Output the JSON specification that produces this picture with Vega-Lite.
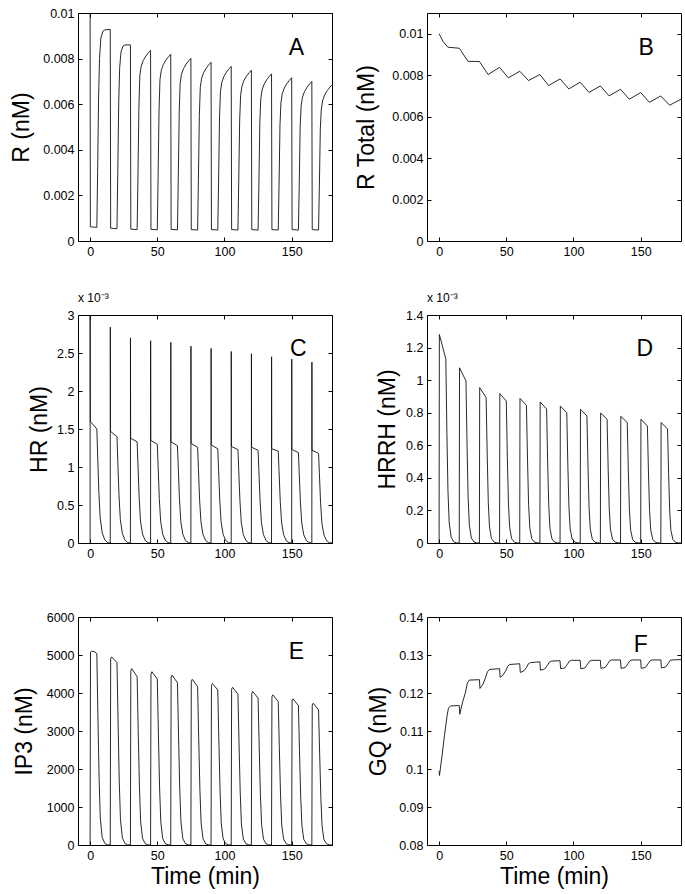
{
"$schema": "https://vega.github.io/schema/vega-lite/v6.json",
"background": "white",
"padding": {"left": 10, "top": 6, "right": 5, "bottom": 5},
"columns": 2,
"spacing": {"row": 74, "column": 95},
"bounds": "flush",
"config": {
  "font": "Liberation Sans",
  "view": {"stroke": "#000", "strokeWidth": 1},
  "axis": {"domain": false, "grid": false, "tickSize": -4, "tickColor": "#000", "tickWidth": 1, "labelPadding": 8, "labelFont": "Liberation Sans", "labelFontSize": 12.5, "labelColor": "#000", "labelFlush": false, "labelOverlap": false, "titleFont": "Liberation Sans", "titleFontSize": 23, "titleFontWeight": "normal", "titleColor": "#000", "titlePadding": 5},
  "title": {"font": "Liberation Sans", "fontSize": 12, "fontWeight": "normal", "anchor": "start", "frame": "group", "offset": 4, "color": "#000"},
  "line": {"color": "#111", "strokeWidth": 0.9},
  "text": {"font": "Liberation Sans", "fontSize": 23, "color": "#000"}
},
"datasets": {
"A": [{"t":0,"v":0.0100},{"t":0.2,"v":0.00062},{"t":5,"v":0.0006},{"t":5.6,"v":0.003},{"t":6.3,"v":0.0062},{"t":7,"v":0.008},{"t":8,"v":0.0089},{"t":9.5,"v":0.0092},{"t":11,"v":0.00926},{"t":15,"v":0.00928},
{"t":15.3,"v":0.00056},{"t":20,"v":0.00054},{"t":20.6,"v":0.003},{"t":21.3,"v":0.0061},{"t":22,"v":0.0076},{"t":23,"v":0.0083},{"t":24.5,"v":0.00855},{"t":26,"v":0.0086},{"t":30,"v":0.0086},
{"t":30.3,"v":0.00052},{"t":35,"v":0.0005},{"t":35.6,"v":0.0028},{"t":36.3,"v":0.0058},{"t":37,"v":0.00726},{"t":38,"v":0.00766},{"t":39.5,"v":0.00791},{"t":41.5,"v":0.00811},{"t":43.5,"v":0.00826},{"t":45,"v":0.00836},
{"t":45.3,"v":0.00051},{"t":50,"v":0.00049},{"t":50.6,"v":0.0028},{"t":51.3,"v":0.0057},{"t":52,"v":0.00709},{"t":53,"v":0.00749},{"t":54.5,"v":0.00774},{"t":56.5,"v":0.00794},{"t":58.5,"v":0.00809},{"t":60,"v":0.00819},
{"t":60.3,"v":0.00051},{"t":65,"v":0.00049},{"t":65.6,"v":0.0027},{"t":66.3,"v":0.0056},{"t":67,"v":0.00691},{"t":68,"v":0.00731},{"t":69.5,"v":0.00756},{"t":71.5,"v":0.00776},{"t":73.5,"v":0.00791},{"t":75,"v":0.00801},
{"t":75.3,"v":0.0005},{"t":80,"v":0.00048},{"t":80.6,"v":0.0027},{"t":81.3,"v":0.0055},{"t":82,"v":0.00674},{"t":83,"v":0.00714},{"t":84.5,"v":0.00739},{"t":86.5,"v":0.00759},{"t":88.5,"v":0.00774},{"t":90,"v":0.00784},
{"t":90.3,"v":0.0005},{"t":95,"v":0.00048},{"t":95.6,"v":0.0026},{"t":96.3,"v":0.0054},{"t":97,"v":0.00656},{"t":98,"v":0.00696},{"t":99.5,"v":0.00721},{"t":101.5,"v":0.00741},{"t":103.5,"v":0.00756},{"t":105,"v":0.00766},
{"t":105.3,"v":0.0005},{"t":110,"v":0.00048},{"t":110.6,"v":0.0026},{"t":111.3,"v":0.0053},{"t":112,"v":0.00639},{"t":113,"v":0.00679},{"t":114.5,"v":0.00704},{"t":116.5,"v":0.00724},{"t":118.5,"v":0.00739},{"t":120,"v":0.00749},
{"t":120.3,"v":0.0005},{"t":125,"v":0.00048},{"t":125.6,"v":0.0025},{"t":126.3,"v":0.0052},{"t":127,"v":0.00623},{"t":128,"v":0.00663},{"t":129.5,"v":0.00688},{"t":131.5,"v":0.00708},{"t":133.5,"v":0.00723},{"t":135,"v":0.00733},
{"t":135.3,"v":0.0005},{"t":140,"v":0.00048},{"t":140.6,"v":0.0025},{"t":141.3,"v":0.0051},{"t":142,"v":0.00606},{"t":143,"v":0.00646},{"t":144.5,"v":0.00671},{"t":146.5,"v":0.00691},{"t":148.5,"v":0.00706},{"t":150,"v":0.00716},
{"t":150.3,"v":0.0005},{"t":155,"v":0.00048},{"t":155.6,"v":0.0024},{"t":156.3,"v":0.005},{"t":157,"v":0.0059},{"t":158,"v":0.0063},{"t":159.5,"v":0.00655},{"t":161.5,"v":0.00675},{"t":163.5,"v":0.0069},{"t":165,"v":0.007},
{"t":165.3,"v":0.0005},{"t":170,"v":0.00048},{"t":170.6,"v":0.0024},{"t":171.3,"v":0.0049},{"t":172,"v":0.00575},{"t":173,"v":0.00615},{"t":174.5,"v":0.0064},{"t":176.5,"v":0.0066},{"t":178.5,"v":0.00675},{"t":180,"v":0.00685}],
"B": [{"t":0,"v":0.0100},{"t":3,"v":0.00962},{"t":6.5,"v":0.00935},{"t":15,"v":0.0093},{"t":21.5,"v":0.00867},{"t":30,"v":0.00866},{"t":36.5,"v":0.00803},{"t":45,"v":0.00838},{"t":51.5,"v":0.00787},{"t":60,"v":0.00819},{"t":66.5,"v":0.00774},{"t":75,"v":0.00803},{"t":81.5,"v":0.0075},{"t":90,"v":0.00782},{"t":96.5,"v":0.00734},{"t":105,"v":0.00766},{"t":111.5,"v":0.00717},{"t":120,"v":0.00748},{"t":126.5,"v":0.0070},{"t":135,"v":0.00732},{"t":141.5,"v":0.00684},{"t":150,"v":0.00716},{"t":156.5,"v":0.00669},{"t":165,"v":0.0070},{"t":171.5,"v":0.00655},{"t":180,"v":0.00684}],
"C": [{"t":0,"v":0},{"t":0.05,"v":3.0},{"t":0.15,"v":1.6},{"t":5,"v":1.5},{"t":5.6,"v":1.17},{"t":6.5,"v":0.675},{"t":7.5,"v":0.33},{"t":9,"v":0.135},{"t":11,"v":0.038},{"t":13,"v":0.006},
{"t":15,"v":0},{"t":15.05,"v":2.84},{"t":15.15,"v":1.47},{"t":20,"v":1.4},{"t":20.6,"v":1.09},{"t":21.5,"v":0.63},{"t":22.5,"v":0.31},{"t":24,"v":0.126},{"t":26,"v":0.035},{"t":28,"v":0.005},
{"t":30,"v":0},{"t":30.05,"v":2.7},{"t":30.15,"v":1.38},{"t":35,"v":1.33},{"t":35.6,"v":1.04},{"t":36.5,"v":0.6},{"t":37.5,"v":0.29},{"t":39,"v":0.12},{"t":41,"v":0.033},{"t":43,"v":0.005},
{"t":45,"v":0},{"t":45.05,"v":2.66},{"t":45.15,"v":1.35},{"t":50,"v":1.3},{"t":50.6,"v":1.01},{"t":51.5,"v":0.585},{"t":52.5,"v":0.286},{"t":54,"v":0.117},{"t":56,"v":0.033},{"t":58,"v":0.005},
{"t":60,"v":0},{"t":60.05,"v":2.64},{"t":60.15,"v":1.33},{"t":65,"v":1.28},{"t":65.6,"v":1.0},{"t":66.5,"v":0.576},{"t":67.5,"v":0.28},{"t":69,"v":0.115},{"t":71,"v":0.032},{"t":73,"v":0.005},
{"t":75,"v":0},{"t":75.05,"v":2.59},{"t":75.15,"v":1.31},{"t":80,"v":1.26},{"t":80.6,"v":0.98},{"t":81.5,"v":0.567},{"t":82.5,"v":0.277},{"t":84,"v":0.113},{"t":86,"v":0.032},{"t":88,"v":0.005},
{"t":90,"v":0},{"t":90.05,"v":2.56},{"t":90.15,"v":1.29},{"t":95,"v":1.24},{"t":95.6,"v":0.97},{"t":96.5,"v":0.558},{"t":97.5,"v":0.273},{"t":99,"v":0.112},{"t":101,"v":0.031},{"t":103,"v":0.005},
{"t":105,"v":0},{"t":105.05,"v":2.52},{"t":105.15,"v":1.27},{"t":110,"v":1.23},{"t":110.6,"v":0.96},{"t":111.5,"v":0.553},{"t":112.5,"v":0.27},{"t":114,"v":0.11},{"t":116,"v":0.031},{"t":118,"v":0.005},
{"t":120,"v":0},{"t":120.05,"v":2.49},{"t":120.15,"v":1.26},{"t":125,"v":1.22},{"t":125.6,"v":0.95},{"t":126.5,"v":0.549},{"t":127.5,"v":0.268},{"t":129,"v":0.11},{"t":131,"v":0.03},{"t":133,"v":0.005},
{"t":135,"v":0},{"t":135.05,"v":2.45},{"t":135.15,"v":1.24},{"t":140,"v":1.21},{"t":140.6,"v":0.94},{"t":141.5,"v":0.545},{"t":142.5,"v":0.266},{"t":144,"v":0.109},{"t":146,"v":0.03},{"t":148,"v":0.005},
{"t":150,"v":0},{"t":150.05,"v":2.42},{"t":150.15,"v":1.23},{"t":155,"v":1.19},{"t":155.6,"v":0.93},{"t":156.5,"v":0.535},{"t":157.5,"v":0.262},{"t":159,"v":0.107},{"t":161,"v":0.03},{"t":163,"v":0.005},
{"t":165,"v":0},{"t":165.05,"v":2.38},{"t":165.15,"v":1.22},{"t":170,"v":1.18},{"t":170.6,"v":0.92},{"t":171.5,"v":0.53},{"t":172.5,"v":0.26},{"t":174,"v":0.106},{"t":176,"v":0.03},{"t":178,"v":0.005},{"t":180,"v":0.001}],
"D": [{"t":0,"v":0},{"t":0.2,"v":1.28},{"t":5,"v":1.13},{"t":5.8,"v":0.68},{"t":6.6,"v":0.32},{"t":7.5,"v":0.125},{"t":9,"v":0.034},{"t":11,"v":0.007},{"t":13,"v":0.001},
{"t":15,"v":0},{"t":15.2,"v":1.076},{"t":20,"v":0.995},{"t":20.8,"v":0.6},{"t":21.6,"v":0.28},{"t":22.5,"v":0.11},{"t":24,"v":0.03},{"t":26,"v":0.006},{"t":28,"v":0.001},
{"t":30,"v":0},{"t":30.2,"v":0.954},{"t":35,"v":0.893},{"t":35.8,"v":0.54},{"t":36.6,"v":0.25},{"t":37.5,"v":0.098},{"t":39,"v":0.027},{"t":41,"v":0.005},{"t":43,"v":0.001},
{"t":45,"v":0},{"t":45.2,"v":0.917},{"t":50,"v":0.872},{"t":50.8,"v":0.52},{"t":51.6,"v":0.245},{"t":52.5,"v":0.096},{"t":54,"v":0.026},{"t":56,"v":0.005},{"t":58,"v":0.001},
{"t":60,"v":0},{"t":60.2,"v":0.888},{"t":65,"v":0.845},{"t":65.8,"v":0.51},{"t":66.6,"v":0.237},{"t":67.5,"v":0.093},{"t":69,"v":0.025},{"t":71,"v":0.005},{"t":73,"v":0.001},
{"t":75,"v":0},{"t":75.2,"v":0.866},{"t":80,"v":0.823},{"t":80.8,"v":0.49},{"t":81.6,"v":0.23},{"t":82.5,"v":0.09},{"t":84,"v":0.025},{"t":86,"v":0.005},{"t":88,"v":0.001},
{"t":90,"v":0},{"t":90.2,"v":0.841},{"t":95,"v":0.8},{"t":95.8,"v":0.48},{"t":96.6,"v":0.224},{"t":97.5,"v":0.088},{"t":99,"v":0.024},{"t":101,"v":0.005},{"t":103,"v":0.001},
{"t":105,"v":0},{"t":105.2,"v":0.821},{"t":110,"v":0.78},{"t":110.8,"v":0.47},{"t":111.6,"v":0.218},{"t":112.5,"v":0.086},{"t":114,"v":0.023},{"t":116,"v":0.005},{"t":118,"v":0.001},
{"t":120,"v":0},{"t":120.2,"v":0.798},{"t":125,"v":0.76},{"t":125.8,"v":0.456},{"t":126.6,"v":0.213},{"t":127.5,"v":0.084},{"t":129,"v":0.023},{"t":131,"v":0.005},{"t":133,"v":0.001},
{"t":135,"v":0},{"t":135.2,"v":0.778},{"t":140,"v":0.74},{"t":140.8,"v":0.444},{"t":141.6,"v":0.207},{"t":142.5,"v":0.081},{"t":144,"v":0.022},{"t":146,"v":0.004},{"t":148,"v":0.001},
{"t":150,"v":0},{"t":150.2,"v":0.76},{"t":155,"v":0.718},{"t":155.8,"v":0.43},{"t":156.6,"v":0.2},{"t":157.5,"v":0.079},{"t":159,"v":0.022},{"t":161,"v":0.004},{"t":163,"v":0.001},
{"t":165,"v":0},{"t":165.2,"v":0.74},{"t":170,"v":0.7},{"t":170.8,"v":0.42},{"t":171.6,"v":0.196},{"t":172.5,"v":0.077},{"t":174,"v":0.021},{"t":176,"v":0.004},{"t":178,"v":0.001},{"t":180,"v":0}],
"E": [{"t":0,"v":0},{"t":0.3,"v":5080},{"t":1,"v":5100},{"t":3,"v":5090},{"t":5,"v":5040},{"t":5.8,"v":3430},{"t":6.7,"v":1760},{"t":7.6,"v":705},{"t":9,"v":200},{"t":11,"v":40},{"t":13,"v":5},
{"t":15,"v":0},{"t":15.3,"v":4900},{"t":16,"v":4950},{"t":20,"v":4800},{"t":20.8,"v":3265},{"t":21.7,"v":1680},{"t":22.6,"v":670},{"t":24,"v":190},{"t":26,"v":38},{"t":28,"v":5},
{"t":30,"v":0},{"t":30.3,"v":4590},{"t":31,"v":4640},{"t":35,"v":4430},{"t":35.8,"v":3010},{"t":36.7,"v":1550},{"t":37.6,"v":620},{"t":39,"v":177},{"t":41,"v":35},{"t":43,"v":5},
{"t":45,"v":0},{"t":45.3,"v":4510},{"t":46,"v":4560},{"t":50,"v":4370},{"t":50.8,"v":2970},{"t":51.7,"v":1530},{"t":52.6,"v":612},{"t":54,"v":175},{"t":56,"v":35},{"t":58,"v":5},
{"t":60,"v":0},{"t":60.3,"v":4420},{"t":61,"v":4470},{"t":65,"v":4270},{"t":65.8,"v":2900},{"t":66.7,"v":1495},{"t":67.6,"v":598},{"t":69,"v":171},{"t":71,"v":34},{"t":73,"v":5},
{"t":75,"v":0},{"t":75.3,"v":4310},{"t":76,"v":4360},{"t":80,"v":4170},{"t":80.8,"v":2835},{"t":81.7,"v":1460},{"t":82.6,"v":584},{"t":84,"v":167},{"t":86,"v":33},{"t":88,"v":5},
{"t":90,"v":0},{"t":90.3,"v":4200},{"t":91,"v":4250},{"t":95,"v":4080},{"t":95.8,"v":2775},{"t":96.7,"v":1430},{"t":97.6,"v":571},{"t":99,"v":163},{"t":101,"v":33},{"t":103,"v":5},
{"t":105,"v":0},{"t":105.3,"v":4100},{"t":106,"v":4150},{"t":110,"v":3970},{"t":110.8,"v":2700},{"t":111.7,"v":1390},{"t":112.6,"v":556},{"t":114,"v":159},{"t":116,"v":32},{"t":118,"v":5},
{"t":120,"v":0},{"t":120.3,"v":3990},{"t":121,"v":4040},{"t":125,"v":3865},{"t":125.8,"v":2630},{"t":126.7,"v":1353},{"t":127.6,"v":541},{"t":129,"v":155},{"t":131,"v":31},{"t":133,"v":5},
{"t":135,"v":0},{"t":135.3,"v":3900},{"t":136,"v":3950},{"t":140,"v":3775},{"t":140.8,"v":2567},{"t":141.7,"v":1321},{"t":142.6,"v":529},{"t":144,"v":151},{"t":146,"v":30},{"t":148,"v":5},
{"t":150,"v":0},{"t":150.3,"v":3795},{"t":151,"v":3845},{"t":155,"v":3670},{"t":155.8,"v":2496},{"t":156.7,"v":1285},{"t":157.6,"v":514},{"t":159,"v":147},{"t":161,"v":29},{"t":163,"v":5},
{"t":165,"v":0},{"t":165.3,"v":3680},{"t":166,"v":3730},{"t":170,"v":3555},{"t":170.8,"v":2417},{"t":171.7,"v":1244},{"t":172.6,"v":498},{"t":174,"v":142},{"t":176,"v":28},{"t":178,"v":5},{"t":180,"v":0}],
"F": [{"t":0,"v":0.0995},{"t":0.3,"v":0.0983},{"t":2,"v":0.103},{"t":4,"v":0.1088},{"t":6,"v":0.1142},{"t":7,"v":0.116},{"t":8.5,"v":0.1166},{"t":15,"v":0.1167},
{"t":15.4,"v":0.1144},{"t":17.5,"v":0.1176},{"t":19.5,"v":0.12},{"t":21,"v":0.1226},{"t":22.5,"v":0.1234},{"t":30,"v":0.1235},
{"t":30.4,"v":0.1212},{"t":32.5,"v":0.1222},{"t":34.5,"v":0.124},{"t":36,"v":0.1256},{"t":37.5,"v":0.1262},{"t":45,"v":0.1264},
{"t":45.4,"v":0.1241},{"t":47.5,"v":0.1247},{"t":49.5,"v":0.1258},{"t":51,"v":0.127},{"t":52.5,"v":0.1275},{"t":60,"v":0.1277},
{"t":60.4,"v":0.1254},{"t":63,"v":0.1258},{"t":65,"v":0.1267},{"t":66.5,"v":0.1277},{"t":68,"v":0.128},{"t":75,"v":0.1282},
{"t":75.4,"v":0.126},{"t":78.5,"v":0.1263},{"t":80.5,"v":0.1272},{"t":82,"v":0.1281},{"t":83.5,"v":0.1284},{"t":90,"v":0.1285},
{"t":90.4,"v":0.1264},{"t":93.5,"v":0.1266},{"t":95.5,"v":0.1276},{"t":97,"v":0.1284},{"t":98.5,"v":0.1286},{"t":105,"v":0.1286},
{"t":105.4,"v":0.1264},{"t":108.5,"v":0.1266},{"t":110.5,"v":0.1276},{"t":112,"v":0.1284},{"t":113.5,"v":0.1286},{"t":120,"v":0.1286},
{"t":120.4,"v":0.1265},{"t":123.5,"v":0.1267},{"t":125.5,"v":0.1277},{"t":127,"v":0.1285},{"t":128.5,"v":0.1287},{"t":135,"v":0.1287},
{"t":135.4,"v":0.1265},{"t":138.5,"v":0.1267},{"t":140.5,"v":0.1277},{"t":142,"v":0.1285},{"t":143.5,"v":0.1287},{"t":150,"v":0.1287},
{"t":150.4,"v":0.1265},{"t":153.5,"v":0.1267},{"t":155.5,"v":0.1277},{"t":157,"v":0.1285},{"t":158.5,"v":0.1287},{"t":165,"v":0.1287},
{"t":165.4,"v":0.1266},{"t":168.5,"v":0.1268},{"t":170.5,"v":0.1278},{"t":172,"v":0.1286},{"t":173.5,"v":0.1287},{"t":180,"v":0.1288}]
},
"concat": [
{"width": 254, "height": 228, "layer": [
 {"data": {"name": "A"}, "mark": {"type": "line"}, "encoding": {
  "x": {"field": "t", "type": "quantitative", "scale": {"domain": [-9, 180], "nice": false, "zero": false}, "axis": {"orient": "bottom", "values": [0, 50, 100, 150], "title": null}},
  "y": {"field": "v", "type": "quantitative", "scale": {"domain": [0, 0.01], "nice": false}, "axis": {"orient": "left", "values": [0, 0.002, 0.004, 0.006, 0.008, 0.01], "format": "~g", "title": "R (nM)", "titlePadding": 9}}}},
 {"data": {"values": [{"t": 153.6, "v": 0.00848, "label": "A"}]}, "mark": {"type": "text"}, "encoding": {
  "x": {"field": "t", "type": "quantitative", "scale": {"domain": [-9, 180], "nice": false, "zero": false}, "axis": {"orient": "top", "values": [0, 50, 100, 150], "labels": false, "title": null}},
  "y": {"field": "v", "type": "quantitative", "scale": {"domain": [0, 0.01], "nice": false}, "axis": {"orient": "right", "values": [0, 0.002, 0.004, 0.006, 0.008, 0.01], "labels": false, "title": null}},
  "text": {"field": "label"}}}
]},
{"width": 254, "height": 228, "layer": [
 {"data": {"name": "B"}, "mark": {"type": "line"}, "encoding": {
  "x": {"field": "t", "type": "quantitative", "scale": {"domain": [-9, 180], "nice": false, "zero": false}, "axis": {"orient": "bottom", "values": [0, 50, 100, 150], "title": null}},
  "y": {"field": "v", "type": "quantitative", "scale": {"domain": [0, 0.011], "nice": false}, "axis": {"orient": "left", "values": [0, 0.002, 0.004, 0.006, 0.008, 0.01], "format": "~g", "title": "R Total (nM)", "titlePadding": 13}}}},
 {"data": {"values": [{"t": 154, "v": 0.00933, "label": "B"}]}, "mark": {"type": "text"}, "encoding": {
  "x": {"field": "t", "type": "quantitative", "scale": {"domain": [-9, 180], "nice": false, "zero": false}, "axis": {"orient": "top", "values": [0, 50, 100, 150], "labels": false, "title": null}},
  "y": {"field": "v", "type": "quantitative", "scale": {"domain": [0, 0.011], "nice": false}, "axis": {"orient": "right", "values": [0, 0.002, 0.004, 0.006, 0.008, 0.01], "labels": false, "title": null}},
  "text": {"field": "label"}}}
]},
{"width": 254, "height": 228, "title": "x 10⁻³", "layer": [
 {"data": {"name": "C"}, "mark": {"type": "line"}, "encoding": {
  "x": {"field": "t", "type": "quantitative", "scale": {"domain": [-9, 180], "nice": false, "zero": false}, "axis": {"orient": "bottom", "values": [0, 50, 100, 150], "title": null}},
  "y": {"field": "v", "type": "quantitative", "scale": {"domain": [0, 3], "nice": false}, "axis": {"orient": "left", "values": [0, 0.5, 1, 1.5, 2, 2.5, 3], "format": "~g", "title": "HR (nM)", "titlePadding": 5}}}},
 {"data": {"values": [{"t": 155, "v": 2.55, "label": "C"}]}, "mark": {"type": "text"}, "encoding": {
  "x": {"field": "t", "type": "quantitative", "scale": {"domain": [-9, 180], "nice": false, "zero": false}, "axis": {"orient": "top", "values": [0, 50, 100, 150], "labels": false, "title": null}},
  "y": {"field": "v", "type": "quantitative", "scale": {"domain": [0, 3], "nice": false}, "axis": {"orient": "right", "values": [0, 0.5, 1, 1.5, 2, 2.5, 3], "labels": false, "title": null}},
  "text": {"field": "label"}}}
]},
{"width": 254, "height": 228, "title": "x 10⁻³", "layer": [
 {"data": {"name": "D"}, "mark": {"type": "line"}, "encoding": {
  "x": {"field": "t", "type": "quantitative", "scale": {"domain": [-9, 180], "nice": false, "zero": false}, "axis": {"orient": "bottom", "values": [0, 50, 100, 150], "title": null}},
  "y": {"field": "v", "type": "quantitative", "scale": {"domain": [0, 1.4], "nice": false}, "axis": {"orient": "left", "values": [0, 0.2, 0.4, 0.6, 0.8, 1, 1.2, 1.4], "format": "~g", "title": "HRRH (nM)", "titlePadding": 6}}}},
 {"data": {"values": [{"t": 153, "v": 1.19, "label": "D"}]}, "mark": {"type": "text"}, "encoding": {
  "x": {"field": "t", "type": "quantitative", "scale": {"domain": [-9, 180], "nice": false, "zero": false}, "axis": {"orient": "top", "values": [0, 50, 100, 150], "labels": false, "title": null}},
  "y": {"field": "v", "type": "quantitative", "scale": {"domain": [0, 1.4], "nice": false}, "axis": {"orient": "right", "values": [0, 0.2, 0.4, 0.6, 0.8, 1, 1.2, 1.4], "labels": false, "title": null}},
  "text": {"field": "label"}}}
]},
{"width": 254, "height": 228, "layer": [
 {"data": {"name": "E"}, "mark": {"type": "line"}, "encoding": {
  "x": {"field": "t", "type": "quantitative", "scale": {"domain": [-9, 180], "nice": false, "zero": false}, "axis": {"orient": "bottom", "values": [0, 50, 100, 150], "title": "Time (min)", "titlePadding": 4}},
  "y": {"field": "v", "type": "quantitative", "scale": {"domain": [0, 6000], "nice": false}, "axis": {"orient": "left", "values": [0, 1000, 2000, 3000, 4000, 5000, 6000], "format": "d", "title": "IP3 (nM)", "titlePadding": 10}}}},
 {"data": {"values": [{"t": 153.6, "v": 5083, "label": "E"}]}, "mark": {"type": "text"}, "encoding": {
  "x": {"field": "t", "type": "quantitative", "scale": {"domain": [-9, 180], "nice": false, "zero": false}, "axis": {"orient": "top", "values": [0, 50, 100, 150], "labels": false, "title": null}},
  "y": {"field": "v", "type": "quantitative", "scale": {"domain": [0, 6000], "nice": false}, "axis": {"orient": "right", "values": [0, 1000, 2000, 3000, 4000, 5000, 6000], "labels": false, "title": null}},
  "text": {"field": "label"}}}
]},
{"width": 254, "height": 228, "layer": [
 {"data": {"name": "F"}, "mark": {"type": "line"}, "encoding": {
  "x": {"field": "t", "type": "quantitative", "scale": {"domain": [-9, 180], "nice": false, "zero": false}, "axis": {"orient": "bottom", "values": [0, 50, 100, 150], "title": "Time (min)", "titlePadding": 4}},
  "y": {"field": "v", "type": "quantitative", "scale": {"domain": [0.08, 0.14], "nice": false, "zero": false}, "axis": {"orient": "left", "values": [0.08, 0.09, 0.1, 0.11, 0.12, 0.13, 0.14], "format": "~g", "title": "GQ (nM)", "titlePadding": 8}}}},
 {"data": {"values": [{"t": 150, "v": 0.1326, "label": "F"}]}, "mark": {"type": "text"}, "encoding": {
  "x": {"field": "t", "type": "quantitative", "scale": {"domain": [-9, 180], "nice": false, "zero": false}, "axis": {"orient": "top", "values": [0, 50, 100, 150], "labels": false, "title": null}},
  "y": {"field": "v", "type": "quantitative", "scale": {"domain": [0.08, 0.14], "nice": false, "zero": false}, "axis": {"orient": "right", "values": [0.08, 0.09, 0.1, 0.11, 0.12, 0.13, 0.14], "labels": false, "title": null}},
  "text": {"field": "label"}}}
]}
]
}
